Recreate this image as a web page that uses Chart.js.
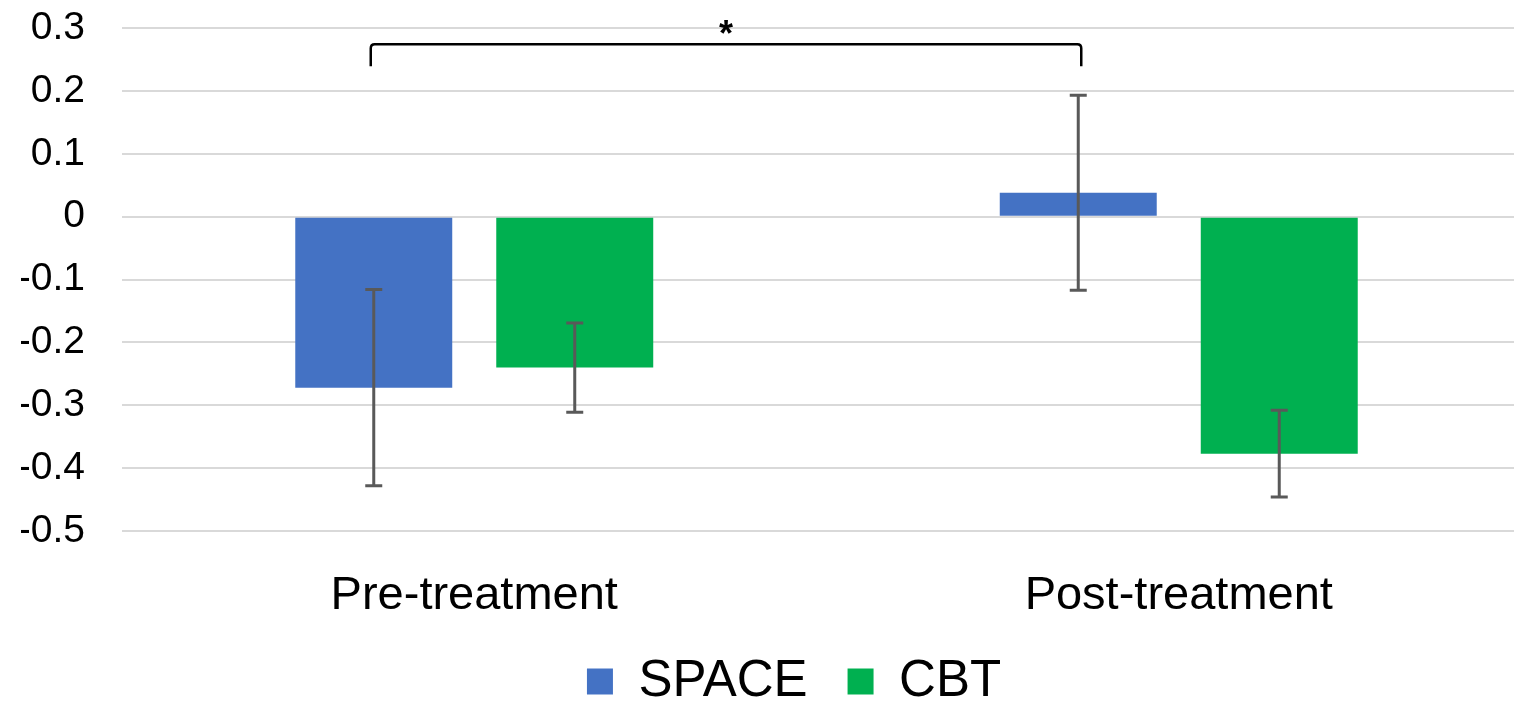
<!DOCTYPE html>
<html>
<head>
<meta charset="utf-8">
<script src="https://cdn.jsdelivr.net/npm/chart.js@4.4.1/dist/chart.umd.min.js"></script>
<style>
  html, body { margin: 0; padding: 0; background: #fff; overflow: hidden; }
  #wrap { width: 1514px; height: 707px; overflow: hidden; }
</style>
</head>
<body>
<div id="wrap"><canvas id="chart" width="1540" height="717"></canvas></div>
<script>
// Chart data
const categories = ['Pre-treatment', 'Post-treatment'];
const seriesNames = ['SPACE', 'CBT'];
const spaceValues = [-0.272, 0.038];
const cbtValues = [-0.240, -0.377];
const spaceErrors = [0.156, 0.155];
const cbtErrors = [0.071, 0.069];
const yMin = -0.5;
const yMax = 0.3;
const yStep = 0.1;

// significance bracket between the two SPACE bars
const bracketLevel = 0.274;
const bracketDrop = 0.239;
const bracketLabel = '*';

const font = '"Liberation Sans", Arial, Helvetica, sans-serif';

// error bars, bracket, legend nudge
const overlay = {
    id: 'overlay',
    afterLayout(chart) {
        const lg = chart.legend;
        lg.left += 18;
        lg.right += 18;
    },
    afterDatasetsDraw(chart) {
        const ctx = chart.ctx;
        const y = chart.scales.y;
        const vals = [spaceValues, cbtValues];
        const errs = [spaceErrors, cbtErrors];
        ctx.save();
        ctx.strokeStyle = '#595959';
        ctx.lineWidth = 3;
        vals.forEach((v, d) => {
            chart.getDatasetMeta(d).data.forEach((bar, i) => {
                const top = y.getPixelForValue(v[i] + errs[d][i]);
                const bot = y.getPixelForValue(v[i] - errs[d][i]);
                ctx.beginPath();
                ctx.moveTo(bar.x, top);
                ctx.lineTo(bar.x, bot);
                ctx.moveTo(bar.x - 8.5, top);
                ctx.lineTo(bar.x + 8.5, top);
                ctx.moveTo(bar.x - 8.5, bot);
                ctx.lineTo(bar.x + 8.5, bot);
                ctx.stroke();
            });
        });

        const a = chart.getDatasetMeta(0).data[0].x - 3;
        const b = chart.getDatasetMeta(0).data[1].x + 3;
        const yl = y.getPixelForValue(bracketLevel);
        const yd = y.getPixelForValue(bracketDrop);
        ctx.strokeStyle = '#000';
        ctx.lineWidth = 2.5;
        ctx.beginPath();
        ctx.moveTo(a, yd);
        ctx.lineTo(a, yl + 4);
        ctx.quadraticCurveTo(a, yl, a + 4, yl);
        ctx.lineTo(b - 4, yl);
        ctx.quadraticCurveTo(b, yl, b, yl + 4);
        ctx.lineTo(b, yd);
        ctx.stroke();

        ctx.fillStyle = '#000';
        ctx.font = 'bold 36px ' + font;
        ctx.textAlign = 'center';
        ctx.textBaseline = 'alphabetic';
        ctx.fillText(bracketLabel, (a + b) / 2, yl + 2);
        ctx.restore();
    }
};

const chart = new Chart(document.getElementById('chart'), {
    type: 'bar',
    data: {
        labels: categories,
        datasets: [{
            label: seriesNames[0],
            data: spaceValues,
            backgroundColor: '#4472C4'
        }, {
            label: seriesNames[1],
            data: cbtValues,
            backgroundColor: '#00B050'
        }]
    },
    options: {
        responsive: false,
        animation: false,
        categoryPercentage: 0.5706,
        barPercentage: 0.781,
        layout: { padding: { left: 21, right: 9, top: 28, bottom: 0 } },
        plugins: {
            tooltip: { enabled: false },
            legend: {
                position: 'bottom',
                labels: {
                    boxWidth: 26,
                    boxHeight: 26,
                    padding: 40,
                    color: '#000',
                    font: { family: font, size: 51 }
                }
            }
        },
        scales: {
            x: {
                afterFit(scale) { scale.height = 85; },
                grid: { display: false },
                border: { display: false },
                ticks: {
                    color: '#000',
                    padding: 28.6,
                    font: { family: font, size: 47 }
                }
            },
            y: {
                min: yMin,
                max: yMax,
                afterFit(scale) {
                    scale.width = 101;
                    scale.paddingTop = 0;
                    scale.paddingBottom = 0;
                },
                grid: { color: '#d9d9d9', lineWidth: 2, drawTicks: false },
                border: { display: false },
                ticks: {
                    stepSize: yStep,
                    color: '#000',
                    padding: 37,
                    font: { family: font, size: 39 },
                    callback: (v) => Math.abs(v) < 1e-9 ? '0' : v.toFixed(1)
                }
            }
        }
    },
    plugins: [overlay]
});
</script>
</body>
</html>
